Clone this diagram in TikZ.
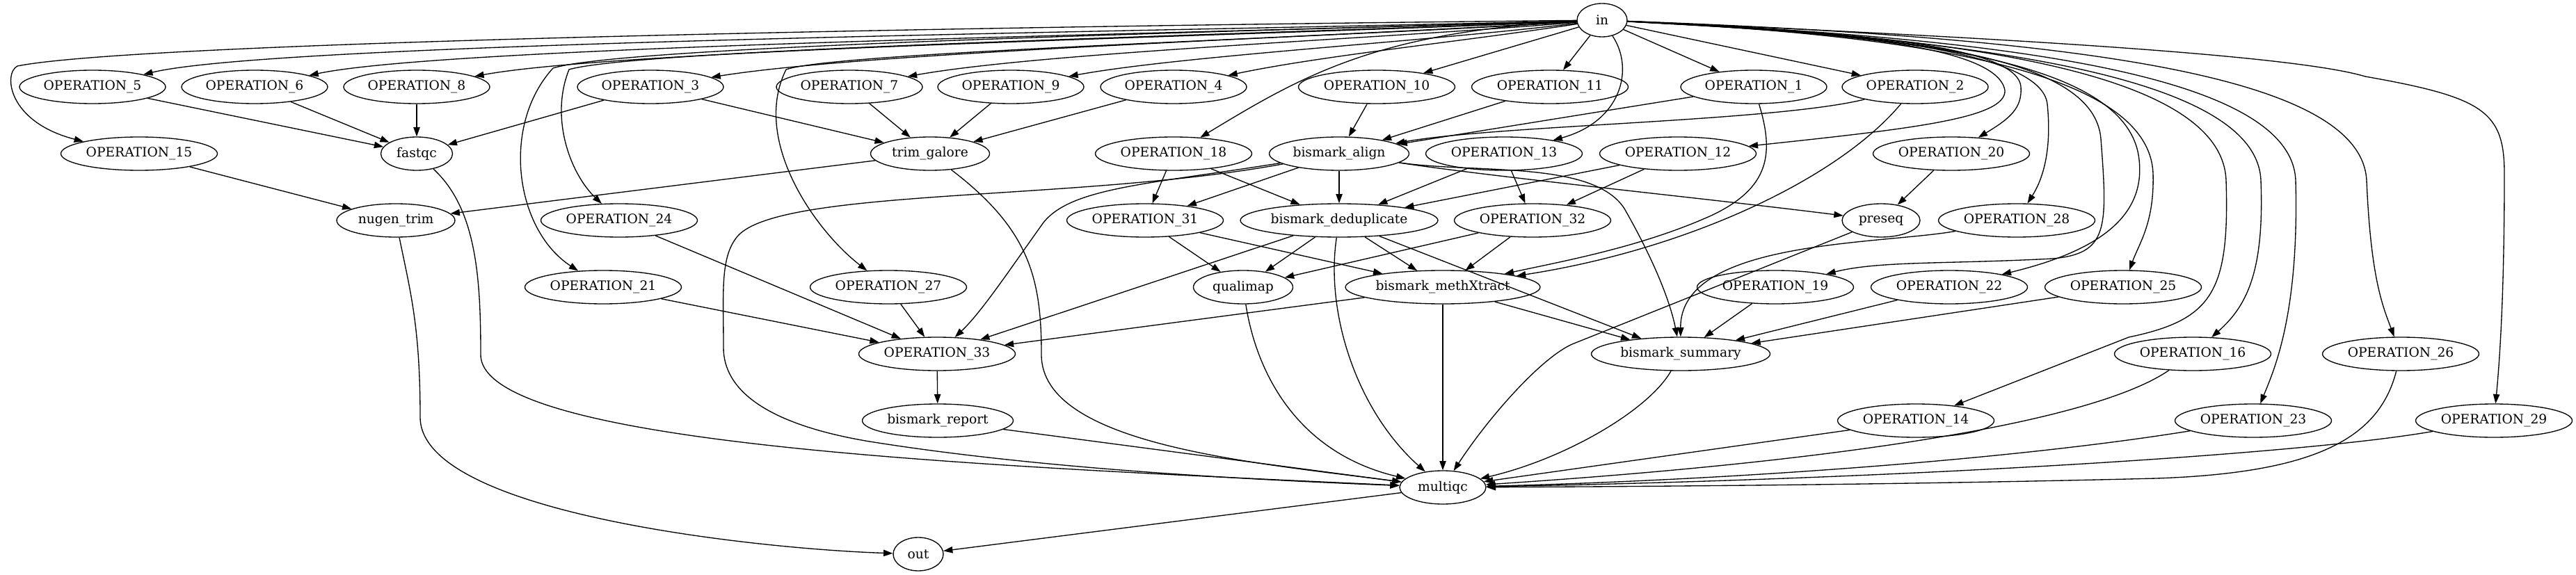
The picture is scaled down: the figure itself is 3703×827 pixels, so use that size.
\documentclass[tikz,border=0pt]{standalone}
\usepackage{fontspec}
\setmainfont{DejaVu Serif}
\usetikzlibrary{arrows.meta,shapes.geometric}
\newcommand{\lbl}[1]{\makebox[0pt]{#1}}
\begin{document}
\begin{tikzpicture}[x=0.75pt,y=-0.75pt,
  nd/.style={ellipse, draw, line width=1pt, minimum height=36pt, inner sep=0pt, font=\fontsize{14pt}{16pt}\selectfont},
  w1/.style={nd, minimum width=157.5pt},
  w2/.style={nd, minimum width=168.75pt},
  ed/.style={-{Triangle[length=10pt,width=7pt]}, line width=1pt}]
\useasboundingbox (0,0) rectangle (3703,827);
% row 0
\node[nd, minimum width=54pt] (in) at (2303,29) {\lbl{in}};
% row 1
\node[w1] (OP5) at (133,125) {\lbl{OPERATION\_5}};
\node[w1] (OP6) at (366,125) {\lbl{OPERATION\_6}};
\node[w1] (OP8) at (599,125) {\lbl{OPERATION\_8}};
\node[w1] (OP3) at (935,125) {\lbl{OPERATION\_3}};
\node[w1] (OP7) at (1221,125) {\lbl{OPERATION\_7}};
\node[w1] (OP9) at (1453,125) {\lbl{OPERATION\_9}};
\node[w1] (OP4) at (1687,125) {\lbl{OPERATION\_4}};
\node[w2] (OP10) at (1979,125) {\lbl{OPERATION\_10}};
\node[w2] (OP11) at (2228,125) {\lbl{OPERATION\_11}};
\node[w1] (OP1) at (2521,125) {\lbl{OPERATION\_1}};
\node[w1] (OP2) at (2753,125) {\lbl{OPERATION\_2}};
% row 2
\node[w2] (OP15) at (200,221) {\lbl{OPERATION\_15}};
\node[nd, minimum width=77.25pt] (fastqc) at (599,221) {\lbl{fastqc}};
\node[nd, minimum width=128.25pt] (trim) at (1337,221) {\lbl{trim\_galore}};
\node[w2] (OP18) at (1687,221) {\lbl{OPERATION\_18}};
\node[nd, minimum width=150.75pt] (align) at (1925,221) {\lbl{bismark\_align}};
\node[w2] (OP13) at (2162,221) {\lbl{OPERATION\_13}};
\node[w2] (OP12) at (2412,221) {\lbl{OPERATION\_12}};
\node[w2] (OP20) at (2805,221) {\lbl{OPERATION\_20}};
% row 3
\node[nd, minimum width=127.5pt] (nugen) at (569,317) {\lbl{nugen\_trim}};
\node[w2] (OP24) at (890,317) {\lbl{OPERATION\_24}};
\node[w2] (OP31) at (1646,317) {\lbl{OPERATION\_31}};
\node[nd, minimum width=213pt] (dedup) at (1925,317) {\lbl{bismark\_deduplicate}};
\node[w2] (OP32) at (2203,317) {\lbl{OPERATION\_32}};
\node[nd, minimum width=84pt] (preseq) at (2704,317) {\lbl{preseq}};
\node[w2] (OP28) at (2899,317) {\lbl{OPERATION\_28}};
% row 4
\node[w2] (OP21) at (867,413) {\lbl{OPERATION\_21}};
\node[w2] (OP27) at (1277,413) {\lbl{OPERATION\_27}};
\node[nd, minimum width=107.25pt] (qualimap) at (1787,413) {\lbl{qualimap}};
\node[nd, minimum width=210pt] (meth) at (2074,413) {\lbl{bismark\_methXtract}};
\node[w2] (OP19) at (2552,413) {\lbl{OPERATION\_19}};
\node[w2] (OP22) at (2802,413) {\lbl{OPERATION\_22}};
\node[w2] (OP25) at (3052,413) {\lbl{OPERATION\_25}};
% row 5
\node[w2] (OP33) at (1347,509) {\lbl{OPERATION\_33}};
\node[nd, minimum width=192.75pt] (summary) at (2416,509) {\lbl{bismark\_summary}};
\node[w2] (OP16) at (3152,509) {\lbl{OPERATION\_16}};
\node[w2] (OP26) at (3451,509) {\lbl{OPERATION\_26}};
% row 6
\node[nd, minimum width=162.75pt] (report) at (1348,605) {\lbl{bismark\_report}};
\node[w2] (OP14) at (2754,605) {\lbl{OPERATION\_14}};
\node[w2] (OP23) at (3239,605) {\lbl{OPERATION\_23}};
\node[w2] (OP29) at (3585,605) {\lbl{OPERATION\_29}};
% row 7-8
\node[nd, minimum width=93pt] (multiqc) at (2074,701) {\lbl{multiqc}};
\node[nd, minimum width=54pt] (out) at (1320,797) {\lbl{out}};

% ---- edges from in, leftwards
\draw[ed] (in) .. controls (1400,38) and (200,60) .. (25,95) .. controls (5,105) and (10,175) .. (OP15.north west);
\draw[ed] (in) .. controls (1700,45) and (400,60) .. (OP5);
\draw[ed] (in) .. controls (1750,48) and (650,65) .. (OP6);
\draw[ed] (in) .. controls (1800,52) and (900,70) .. (OP8);
\draw[ed] (in) .. controls (1800,45) and (900,65) .. (795,98) .. controls (720,180) and (740,330) .. (OP21);
\draw[ed] (in) .. controls (1800,50) and (920,70) .. (818,100) .. controls (790,170) and (820,250) .. (OP24);
\draw[ed] (in) .. controls (1850,56) and (1250,75) .. (OP3);
\draw[ed] (in) .. controls (1900,55) and (1200,75) .. (1130,100) .. controls (1080,200) and (1170,330) .. (OP27);
\draw[ed] (in) .. controls (2000,55) and (1500,75) .. (OP7);
\draw[ed] (in) .. controls (2050,60) and (1700,80) .. (OP9);
\draw[ed] (in) .. controls (2100,60) and (1900,80) .. (OP4);
\draw[ed] (in) .. controls (1980,45) and (1870,110) .. (OP18);
\draw[ed] (in) -- (OP10);
\draw[ed] (in) -- (OP11);
\draw[ed] (in) .. controls (2350,100) and (2330,175) .. (OP13);
\draw[ed] (in) -- (OP1);
\draw[ed] (in) -- (OP2);
% ---- edges from in, rightwards
\draw[ed] (in) .. controls (2600,45) and (2870,60) .. (2882,130) .. controls (2884,170) and (2750,185) .. (OP12);
\draw[ed] (in) .. controls (2620,45) and (2900,60) .. (2905,125) .. controls (2907,155) and (2890,170) .. (OP20);
\draw[ed] (in) .. controls (2650,45) and (2935,70) .. (2943,150) .. controls (2950,220) and (2935,260) .. (OP28);
\draw[ed] (in) .. controls (2700,50) and (3010,70) .. (3020,200) .. controls (3030,330) and (3030,365) .. (2950,372) .. controls (2800,380) and (2700,375) .. (OP19);
\draw[ed] (in) .. controls (2720,50) and (3060,80) .. (3075,230) .. controls (3085,320) and (3000,365) .. (OP22);
\draw[ed] (in) .. controls (2750,50) and (3090,100) .. (3095,250) .. controls (3097,320) and (3075,350) .. (OP25);
\draw[ed] (in) .. controls (2800,50) and (3195,100) .. (3200,260) .. controls (3205,420) and (3180,460) .. (3060,485) -- (OP14);
\draw[ed] (in) .. controls (2850,55) and (3245,110) .. (3250,260) .. controls (3255,390) and (3230,440) .. (OP16);
\draw[ed] (in) .. controls (2900,55) and (3295,110) .. (3300,260) .. controls (3305,450) and (3270,530) .. (OP23);
\draw[ed] (in) .. controls (3000,55) and (3395,110) .. (3402,260) .. controls (3408,400) and (3425,440) .. (OP26);
\draw[ed] (in) .. controls (2900,55) and (3300,80) .. (3400,110) .. controls (3570,140) and (3600,160) .. (3600,250) .. controls (3600,400) and (3595,500) .. (OP29);

% ---- row 1 outputs
\draw[ed] (OP5) -- (fastqc);
\draw[ed] (OP6) -- (fastqc);
\draw[ed] (OP8) -- (fastqc);
\draw[ed] (OP3) -- (fastqc);
\draw[ed] (OP3) -- (trim);
\draw[ed] (OP7) -- (trim);
\draw[ed] (OP9) -- (trim);
\draw[ed] (OP4) -- (trim);
\draw[ed] (OP10) -- (align);
\draw[ed] (OP11) -- (align);
\draw[ed] (OP1) -- (align);
\draw[ed] (OP2) .. controls (2550,175) and (2150,180) .. (align);
\draw[ed] (OP1) .. controls (2550,220) and (2545,270) .. (2460,310) .. controls (2360,355) and (2250,375) .. (meth);
\draw[ed] (OP2) .. controls (2640,260) and (2420,360) .. (meth);

% ---- row 2 outputs
\draw[ed] (OP15) -- (nugen);
\draw[ed] (trim) -- (nugen);
\draw[ed] (fastqc) .. controls (685,300) and (691,400) .. (691,510) .. controls (691,640) and (1400,670) .. (multiqc);
\draw[ed] (trim) .. controls (1480,330) and (1497,400) .. (1497,510) .. controls (1497,640) and (1800,665) .. (multiqc);
\draw[ed] (OP18) -- (OP31);
\draw[ed] (OP18) -- (dedup);
\draw[ed] (align) -- (OP31);
\draw[ed] (align) -- (dedup);
\draw[ed] (align) .. controls (1650,265) and (1540,270) .. (1500,320) .. controls (1450,390) and (1410,450) .. (OP33);
\draw[ed] (align) .. controls (1550,290) and (1120,270) .. (1060,340) .. controls (1035,370) and (1040,420) .. (1040,500) .. controls (1040,560) and (1100,610) .. (1250,635) .. controls (1500,675) and (1800,690) .. (multiqc);
\draw[ed] (align) .. controls (2150,255) and (2450,285) .. (preseq);
\draw[ed] (align) .. controls (2120,250) and (2290,230) .. (2335,300) .. controls (2375,370) and (2400,430) .. (summary);
\draw[ed] (OP13) -- (OP32);
\draw[ed] (OP13) -- (dedup);
\draw[ed] (OP12) -- (dedup);
\draw[ed] (OP12) -- (OP32);
\draw[ed] (OP20) -- (preseq);

% ---- row 3 outputs
\draw[ed] (nugen) .. controls (590,420) and (604,470) .. (604,600) .. controls (604,740) and (1100,790) .. (out);
\draw[ed] (OP24) -- (OP33);
\draw[ed] (OP31) -- (qualimap);
\draw[ed] (OP31) -- (meth);
\draw[ed] (dedup) -- (qualimap);
\draw[ed] (dedup) -- (meth);
\draw[ed] (dedup) -- (OP33);
\draw[ed] (dedup) -- (summary);
\draw[ed] (dedup) .. controls (1905,450) and (1950,590) .. (multiqc);
\draw[ed] (OP32) -- (qualimap);
\draw[ed] (OP32) -- (meth);
\draw[ed] (preseq) -- (2260,495) .. controls (2215,515) and (2140,600) .. (multiqc);
\draw[ed] (OP28) .. controls (2700,352) and (2415,345) .. (summary);

% ---- row 4 outputs
\draw[ed] (OP21) -- (OP33);
\draw[ed] (OP27) -- (OP33);
\draw[ed] (qualimap) .. controls (1805,530) and (1860,650) .. (multiqc);
\draw[ed] (meth) -- (multiqc);
\draw[ed] (meth) -- (OP33);
\draw[ed] (meth) -- (summary);
\draw[ed] (OP19) -- (summary);
\draw[ed] (OP22) -- (summary);
\draw[ed] (OP25) -- (summary);

% ---- row 5-6 outputs
\draw[ed] (OP33) -- (report);
\draw[ed] (summary) .. controls (2370,590) and (2250,660) .. (multiqc);
\draw[ed] (OP16) .. controls (3020,600) and (2700,660) .. (multiqc);
\draw[ed] (OP26) .. controls (3420,630) and (3330,680) .. (3100,688) .. controls (2700,698) and (2300,700) .. (multiqc);
\draw[ed] (report) -- (multiqc);
\draw[ed] (OP14) -- (multiqc);
\draw[ed] (OP23) .. controls (2900,660) and (2500,690) .. (multiqc);
\draw[ed] (OP29) .. controls (3300,655) and (2700,690) .. (multiqc);
\draw[ed] (multiqc) -- (out);
\end{tikzpicture}
\end{document}
